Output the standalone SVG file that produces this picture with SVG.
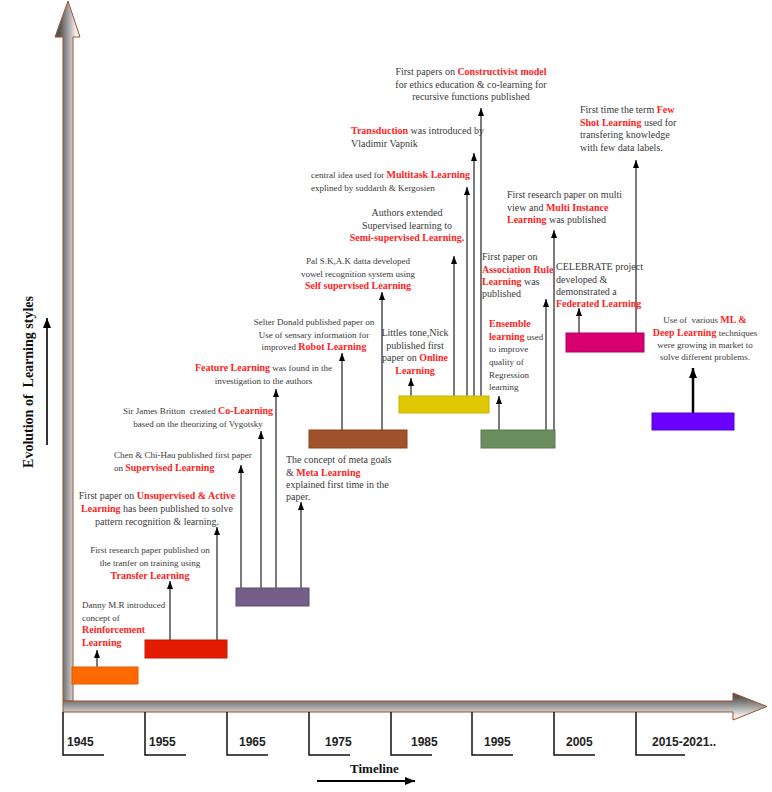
<svg xmlns="http://www.w3.org/2000/svg" width="772" height="792" viewBox="0 0 772 792">
<style>
.t{font-family:"Liberation Serif","Times New Roman",serif;fill:#3a3a3a}
.s{font-size:9px}
.m{font-size:10px}
.b{font-weight:bold;fill:#ff2424;font-size:10px}
.pre{white-space:pre}
.yr{font-family:"Liberation Sans",Arial,sans-serif;font-weight:bold;font-size:12px;fill:#222}
.ttl{font-family:"Liberation Serif","Times New Roman",serif;font-weight:bold;font-size:13px;fill:#111}
.c{stroke:#333;stroke-width:1.3;fill:none;marker-end:url(#ah)}
.tick{stroke:#111;stroke-width:1.5;fill:none}
.box{stroke-width:1}
</style>
<defs>
<marker id="ah" viewBox="0 0 8 6" refX="8" refY="3" markerWidth="8" markerHeight="6" markerUnits="userSpaceOnUse" orient="auto"><path d="M0,0 L8,3 L0,6 z" fill="#000"/></marker>
<marker id="ahb" viewBox="0 0 10 8" refX="10" refY="4" markerWidth="10" markerHeight="8" markerUnits="userSpaceOnUse" orient="auto"><path d="M0,0 L10,4 L0,8 z" fill="#000"/></marker>
<linearGradient id="gv" gradientUnits="userSpaceOnUse" x1="60" y1="0" x2="76" y2="0"><stop offset="0" stop-color="#555"/><stop offset="0.5" stop-color="#a0a0a0"/><stop offset="1" stop-color="#f0f0f0"/></linearGradient>
<linearGradient id="gh" gradientUnits="userSpaceOnUse" x1="0" y1="697" x2="0" y2="716"><stop offset="0" stop-color="#555"/><stop offset="0.5" stop-color="#a0a0a0"/><stop offset="1" stop-color="#f0f0f0"/></linearGradient>
</defs>

<g id="axes">
<polygon points="63,701 63,37 55,37 68,1 80,37 73,37 73,701" fill="url(#gv)" stroke="#a0522d" stroke-width="1"/>
<polygon points="63,701 733,701 733,693 767,706.5 733,720 733,712 63,712" fill="url(#gh)" stroke="#a0522d" stroke-width="1"/>
</g>

<g id="ticks">
<path class="tick" d="M63,712 V755 H104"/>
<path class="tick" d="M145,712 V755 H186"/>
<path class="tick" d="M227,712 V755 H268"/>
<path class="tick" d="M309,712 V755 H350"/>
<path class="tick" d="M391,712 V755 H432"/>
<path class="tick" d="M472,712 V755 H513"/>
<path class="tick" d="M554,712 V755 H595"/>
<path class="tick" d="M636,712 V755 H685"/>
<text class="yr" x="67" y="746">1945</text>
<text class="yr" x="149" y="746">1955</text>
<text class="yr" x="239" y="746">1965</text>
<text class="yr" x="325" y="746">1975</text>
<text class="yr" x="411" y="746">1985</text>
<text class="yr" x="484" y="746">1995</text>
<text class="yr" x="566" y="746">2005</text>
<text class="yr" x="652" y="746">2015-2021..</text>
</g>

<g id="timeline-label">
<text class="ttl" x="350" y="773">Timeline</text>
<path d="M317,781 H415" stroke="#000" stroke-width="1.8" marker-end="url(#ahb)"/>
</g>

<g id="yaxis-label">
<text class="ttl pre" style="font-size:14px" transform="translate(33,382) rotate(-90)" text-anchor="middle">Evolution of  Learning styles</text>
<path d="M47,445 V318" stroke="#000" stroke-width="1.6" marker-end="url(#ahb)"/>
</g>

<g id="connectors">
<path class="c" d="M97,667 V650"/>
<path class="c" d="M170,640 V581"/>
<path class="c" d="M217,640 V527"/>
<path class="c" d="M241,588 V465"/>
<path class="c" d="M261,588 V431"/>
<path class="c" d="M276,588 V389"/>
<path class="c" d="M301,588 V502"/>
<path class="c" d="M342,430 V353"/>
<path class="c" d="M382,430 V292"/>
<path class="c" d="M411,396 V378"/>
<path class="c" d="M454,396 V256"/>
<path class="c" d="M467,396 V187"/>
<path class="c" d="M474,396 V153"/>
<path class="c" d="M481,396 V108"/>
<path class="c" d="M499,430 V396"/>
<path class="c" d="M546,430 V299"/>
<path class="c" d="M554,430 V230"/>
<path class="c" d="M579,333 V308"/>
<path class="c" d="M636,333 V160"/>
<path d="M693,413 V368" stroke="#000" stroke-width="2.5" fill="none" marker-end="url(#ahb)"/>
</g>

<g id="box-1945"><rect class="box" x="72" y="667" width="66" height="17" fill="#ff6a00" stroke="#e05a00"/></g>
<g id="box-1955"><rect class="box" x="145" y="640" width="82" height="18" fill="#e31b00" stroke="#c81800"/></g>
<g id="box-1965"><rect class="box" x="236" y="588" width="73" height="18" fill="#765e8a" stroke="#5e4a70"/></g>
<g id="box-1975"><rect class="box" x="309" y="430" width="98" height="18" fill="#a0522d" stroke="#8b4513"/></g>
<g id="box-1985"><rect class="box" x="399" y="396" width="90" height="17" fill="#e0c800" stroke="#c8b000"/></g>
<g id="box-1995"><rect class="box" x="481" y="430" width="74" height="18" fill="#6b8e5f" stroke="#5a7a50"/></g>
<g id="box-2005"><rect class="box" x="566" y="333" width="78" height="19" fill="#d6006e" stroke="#b8005e"/></g>
<g id="box-2015"><rect class="box" x="652" y="413" width="82" height="17" fill="#6a00ff" stroke="#5500dd"/></g>

<g id="n-reinforcement">
<text class="t s" x="82" y="608">Danny M.R introduced</text>
<text class="t s" x="82" y="620.5">concept of</text>
<text class="t b" x="82" y="633">Reinforcement</text>
<text class="t b" x="82" y="645.5">Learning</text>
</g>

<g id="n-transfer" text-anchor="middle">
<text class="t s" x="150" y="553">First research paper published on</text>
<text class="t s" x="150" y="566">the tranfer on training using</text>
<text class="t b" x="150" y="579">Transfer Learning</text>
</g>

<g id="n-unsupervised" text-anchor="middle">
<text class="t m" x="157" y="499">First paper on <tspan class="b">Unsupervised &amp; Active</tspan></text>
<text class="t m" x="157" y="512"><tspan class="b">Learning</tspan> has been published to solve</text>
<text class="t m" x="157" y="524.5">pattern recognition &amp; learning.</text>
</g>

<g id="n-supervised">
<text class="t s" x="114" y="458">Chen &amp; Chi-Hau published first paper</text>
<text class="t s" x="114" y="471">on <tspan class="b">Supervised Learning</tspan></text>
</g>

<g id="n-colearning" text-anchor="middle">
<text class="t s pre" x="198" y="414">Sir James Britton  created <tspan class="b">Co-Learning</tspan></text>
<text class="t s" x="198" y="427">based on the theorizing of Vygotsky</text>
</g>

<g id="n-feature" text-anchor="middle">
<text class="t s" x="263.5" y="371"><tspan class="b">Feature Learning</tspan> was found in the</text>
<text class="t s" x="263.5" y="384">investigation to the authors</text>
</g>

<g id="n-meta">
<text class="t m" x="286" y="463">The concept of meta goals</text>
<text class="t m" x="286" y="475.5">&amp; <tspan class="b">Meta Learning</tspan></text>
<text class="t m" x="286" y="488">explained first time in the</text>
<text class="t m" x="286" y="500">paper.</text>
</g>

<g id="n-robot" text-anchor="middle">
<text class="t s" x="314" y="325">Selter Donald published paper on</text>
<text class="t s" x="314" y="337.5">Use of sensary information for</text>
<text class="t s" x="314" y="350">improved <tspan class="b">Robot Learning</tspan></text>
</g>

<g id="n-online" text-anchor="middle">
<text class="t m" x="415" y="336">Littles tone,Nick</text>
<text class="t m" x="415" y="348.5">published first</text>
<text class="t m" x="415" y="361">paper on <tspan class="b">Online</tspan></text>
<text class="t b" x="415" y="373.5">Learning</text>
</g>

<g id="n-selfsupervised" text-anchor="middle">
<text class="t s" x="358" y="264">Pal S.K,A.K datta developed</text>
<text class="t s" x="358" y="276.5">vowel recognition system using</text>
<text class="t b" x="358" y="289">Self supervised Learning</text>
</g>

<g id="n-semisupervised" text-anchor="middle">
<text class="t m" x="407" y="216">Authors extended</text>
<text class="t m" x="407" y="228.5">Supervised learning to</text>
<text class="t b" x="407" y="241">Semi-supervised Learning.</text>
</g>

<g id="n-multitask">
<text class="t s" x="311" y="178">central idea used for <tspan class="b">Multitask Learning</tspan></text>
<text class="t s" x="311" y="191">explined by suddarth &amp; Kergosien</text>
</g>

<g id="n-transduction">
<text class="t m" x="351" y="134"><tspan class="b">Transduction</tspan> was introduced by</text>
<text class="t m" x="351" y="147">Vladimir Vapnik</text>
</g>

<g id="n-constructivist" text-anchor="middle">
<text class="t m" x="471" y="75">First papers on <tspan class="b">Constructivist model</tspan></text>
<text class="t m" x="471" y="87.5">for ethics education &amp; co-learning for</text>
<text class="t m" x="471" y="100">recursive functions published</text>
</g>

<g id="n-association">
<text class="t m" x="482" y="260">First paper on</text>
<text class="t b" x="482" y="272.5">Association Rule</text>
<text class="t m" x="482" y="285"><tspan class="b">Learning</tspan> was</text>
<text class="t m" x="482" y="297">published</text>
</g>

<g id="n-ensemble">
<text class="t b" x="489" y="327">Ensemble</text>
<text class="t s" x="489" y="339.5"><tspan class="b">learning</tspan> used</text>
<text class="t s" x="489" y="352">to improve</text>
<text class="t s" x="489" y="365">quality of</text>
<text class="t s" x="489" y="378">Regression</text>
<text class="t s" x="489" y="390">learning</text>
</g>

<g id="n-multiinstance">
<text class="t m" x="507" y="198">First research paper on multi</text>
<text class="t m" x="507" y="210.5">view and <tspan class="b">Multi Instance</tspan></text>
<text class="t m" x="507" y="223"><tspan class="b">Learning</tspan> was published</text>
</g>

<g id="n-federated">
<text class="t m" x="556" y="270">CELEBRATE project</text>
<text class="t m" x="556" y="282.5">developed &amp;</text>
<text class="t m" x="556" y="295">demonstrated a</text>
<text class="t b" x="556" y="307">Federated Learning</text>
</g>

<g id="n-fewshot">
<text class="t m" x="580" y="113">First time the term <tspan class="b">Few</tspan></text>
<text class="t m" x="580" y="125.5"><tspan class="b">Shot Learning</tspan> used for</text>
<text class="t m" x="580" y="138">transfering knowledge</text>
<text class="t m" x="580" y="150.5">with few data labels.</text>
</g>

<g id="n-deeplearning" text-anchor="middle">
<text class="t s pre" x="705" y="323">Use of  various <tspan class="b">ML &amp;</tspan></text>
<text class="t s" x="705" y="335.5"><tspan class="b">Deep Learning</tspan> techniques</text>
<text class="t s" x="705" y="347.5">were growing in market to</text>
<text class="t s" x="705" y="359.5">solve different problems.</text>
</g>
</svg>
